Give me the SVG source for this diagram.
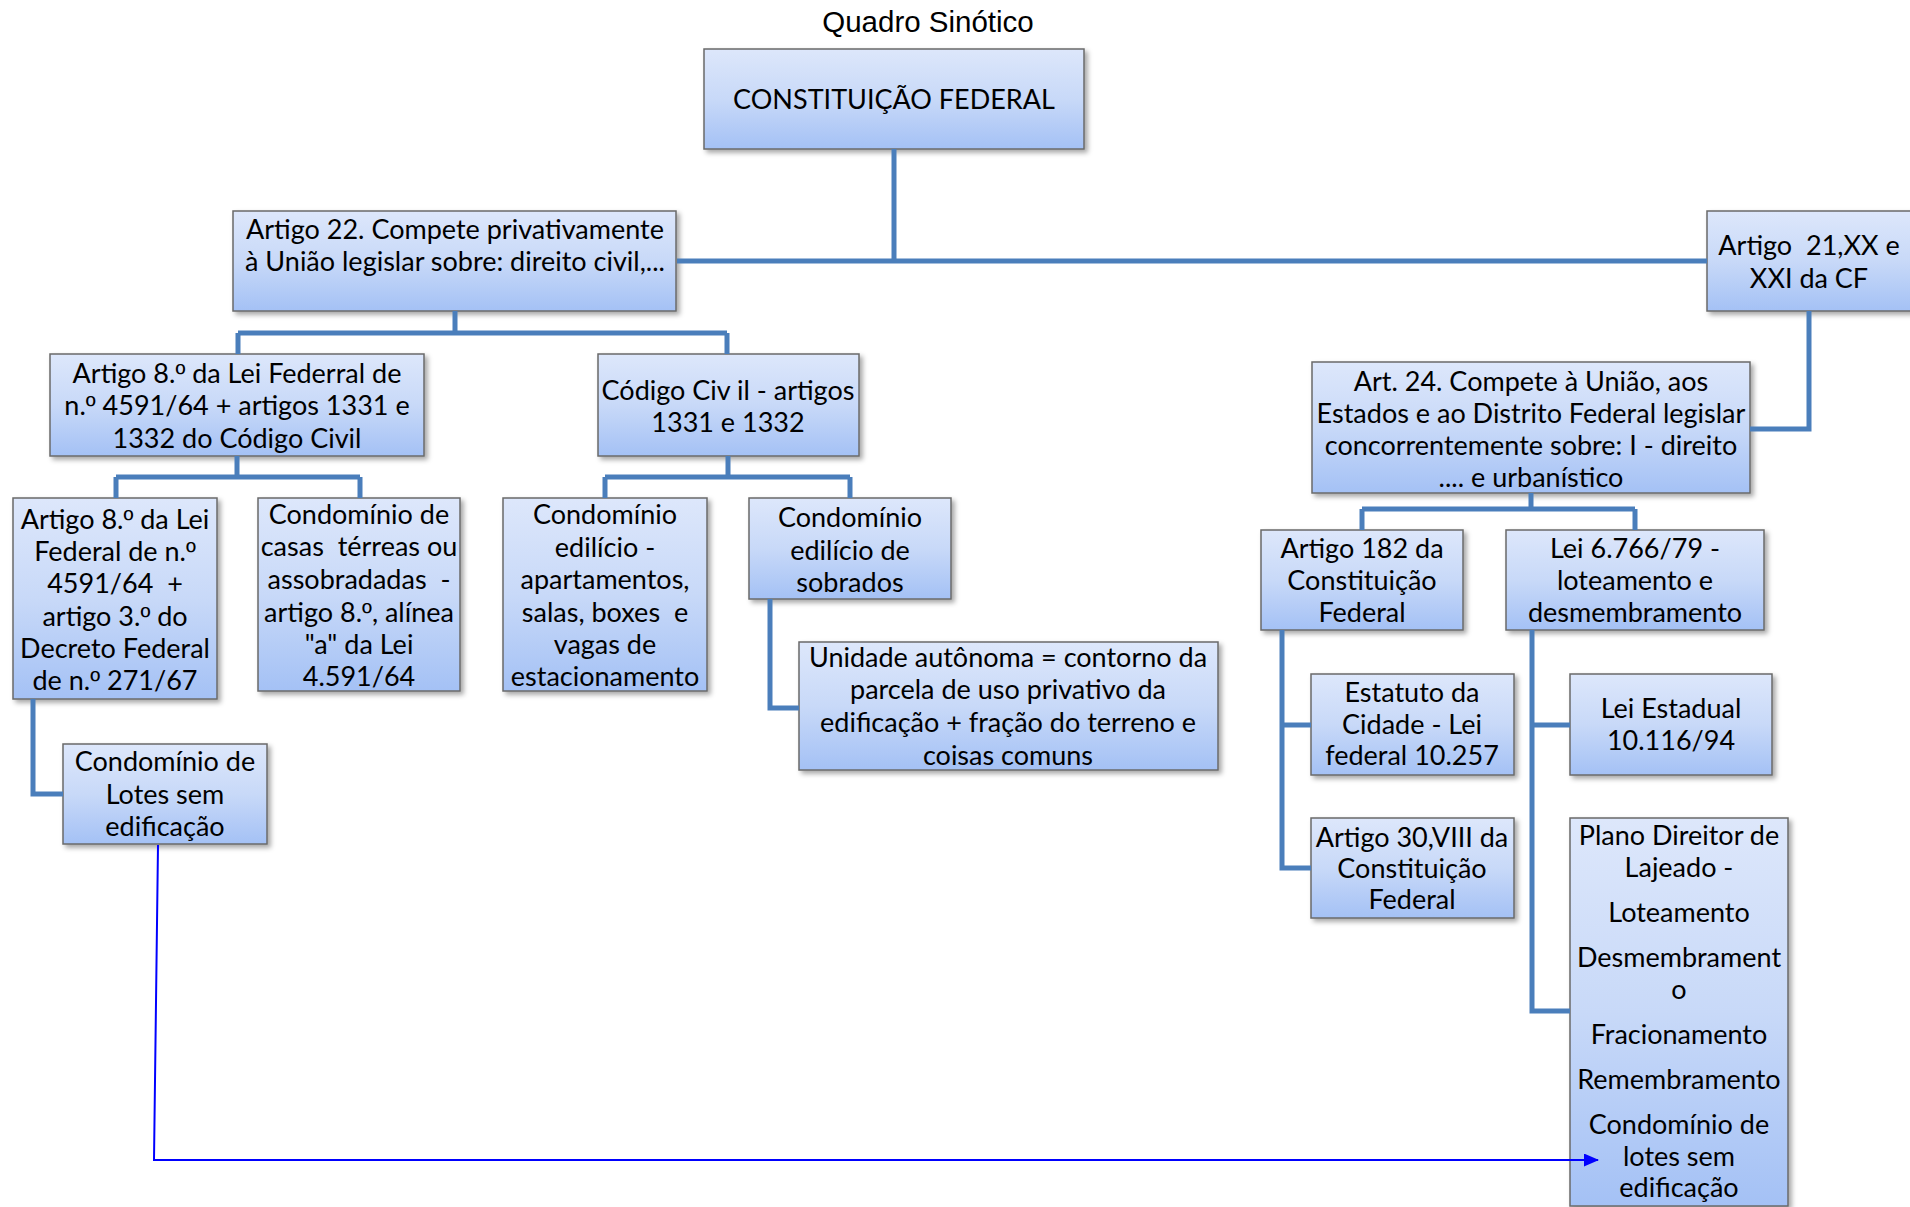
<svg xmlns="http://www.w3.org/2000/svg" width="1910" height="1207" viewBox="0 0 1910 1207">
<style>
.box{fill:url(#g);stroke:#6a6a6a;stroke-width:1.5;filter:url(#sh)}
.t{font-family:Lato,"Open Sans","DejaVu Sans",sans-serif;font-size:27px;fill:#000;text-anchor:middle}
.big{font-size:27px}
.o{font-family:"Liberation Sans",Arial,sans-serif}
.c{fill:none;stroke:#4a7ebb;stroke-width:5}
.blue{fill:none;stroke:#0000ff;stroke-width:2}
</style>
<defs>
<linearGradient id="g" x1="0" y1="0" x2="0" y2="1">
<stop offset="0" stop-color="#dde7fb"/>
<stop offset="0.5" stop-color="#c8d9f8"/>
<stop offset="1" stop-color="#a4c1f5"/>
</linearGradient>
<filter id="sh" x="-10%" y="-10%" width="130%" height="130%">
<feDropShadow dx="3" dy="3" stdDeviation="2.5" flood-color="#000" flood-opacity="0.35"/>
</filter>
<marker id="ar" markerWidth="15" markerHeight="13" refX="14" refY="6.5" orient="auto" markerUnits="userSpaceOnUse" viewBox="0 0 15 13">
<path d="M0,0 L15,6.5 L0,13 z" fill="#0000ff"/>
</marker>
</defs>
<rect width="1910" height="1207" fill="#fff"/>
<text x="928" y="32" style="font-family:'Liberation Sans',Arial,sans-serif;font-size:29.5px;text-anchor:middle">Quadro Sinótico</text>

<g id="n-cf"><rect class="box" x="704" y="49" width="380" height="100"/>
<text class="t big" x="894" y="109">CONSTITUIÇÃO FEDERAL</text></g>

<g id="n-art22"><rect class="box" x="233" y="211" width="443" height="100"/>
<text class="t" x="455" y="239">Artigo 22. Compete privativamente</text>
<text class="t" x="455" y="271">à União legislar sobre: direito civil,...</text></g>

<g id="n-art21"><rect class="box" x="1707" y="211" width="206" height="100"/>
<text class="t" x="1809" y="255" xml:space="preserve">Artigo  21,XX e</text>
<text class="t" x="1809" y="288">XXI da CF</text></g>

<g id="n-art8fed"><rect class="box" x="50" y="354" width="374" height="102"/>
<text class="t" x="237" y="383">Artigo 8.<tspan class="o">º</tspan> da Lei Federral de</text>
<text class="t" x="237" y="415">n.<tspan class="o">º</tspan> 4591/64 + artigos 1331 e</text>
<text class="t" x="237" y="448">1332 do Código Civil</text></g>

<g id="n-cc"><rect class="box" x="598" y="354" width="261" height="102"/>
<text class="t" x="728" y="400">Código Civ il - artigos</text>
<text class="t" x="728" y="432">1331 e 1332</text></g>

<g id="n-art24"><rect class="box" x="1312" y="362" width="438" height="131"/>
<text class="t" x="1531" y="391">Art. 24. Compete à União, aos</text>
<text class="t" x="1531" y="423">Estados e ao Distrito Federal legislar</text>
<text class="t" x="1531" y="455">concorrentemente sobre: I - direito</text>
<text class="t" x="1531" y="487">.... e urbanístico</text></g>

<g id="n-art8lei"><rect class="box" x="13" y="498" width="204" height="201"/>
<text class="t" x="115" y="529">Artigo 8.<tspan class="o">º</tspan> da Lei</text>
<text class="t" x="115" y="561">Federal de n.<tspan class="o">º</tspan></text>
<text class="t" x="115" y="593" xml:space="preserve">4591/64  +</text>
<text class="t" x="115" y="626">artigo 3.<tspan class="o">º</tspan> do</text>
<text class="t" x="115" y="658">Decreto Federal</text>
<text class="t" x="115" y="690">de n.<tspan class="o">º</tspan> 271/67</text></g>

<g id="n-casas"><rect class="box" x="258" y="498" width="202" height="193"/>
<text class="t" x="359" y="524">Condomínio de</text>
<text class="t" x="359" y="556" xml:space="preserve">casas  térreas ou</text>
<text class="t" x="359" y="589" xml:space="preserve">assobradadas  -</text>
<text class="t" x="359" y="622">artigo 8.<tspan class="o">º</tspan>, alínea</text>
<text class="t" x="359" y="654">"a" da Lei</text>
<text class="t" x="359" y="686">4.591/64</text></g>

<g id="n-edilicio"><rect class="box" x="503" y="498" width="204" height="193"/>
<text class="t" x="605" y="524">Condomínio</text>
<text class="t" x="605" y="557">edilício -</text>
<text class="t" x="605" y="589">apartamentos,</text>
<text class="t" x="605" y="622" xml:space="preserve">salas, boxes  e</text>
<text class="t" x="605" y="654">vagas de</text>
<text class="t" x="605" y="686">estacionamento</text></g>

<g id="n-sobrados"><rect class="box" x="749" y="498" width="202" height="101"/>
<text class="t" x="850" y="527">Condomínio</text>
<text class="t" x="850" y="560">edilício de</text>
<text class="t" x="850" y="592">sobrados</text></g>

<g id="n-unidade"><rect class="box" x="799" y="642" width="419" height="128"/>
<text class="t" x="1008" y="667">Unidade autônoma = contorno da</text>
<text class="t" x="1008" y="699">parcela de uso privativo da</text>
<text class="t" x="1008" y="732">edificação + fração do terreno e</text>
<text class="t" x="1008" y="765">coisas comuns</text></g>

<g id="n-lotes"><rect class="box" x="63" y="744" width="204" height="100"/>
<text class="t" x="165" y="771">Condomínio de</text>
<text class="t" x="165" y="804">Lotes sem</text>
<text class="t" x="165" y="836">edificação</text></g>

<g id="n-art182"><rect class="box" x="1261" y="530" width="202" height="100"/>
<text class="t" x="1362" y="558">Artigo 182 da</text>
<text class="t" x="1362" y="590">Constituição</text>
<text class="t" x="1362" y="622">Federal</text></g>

<g id="n-lei6766"><rect class="box" x="1506" y="530" width="258" height="100"/>
<text class="t" x="1635" y="558">Lei 6.766/79 -</text>
<text class="t" x="1635" y="590">loteamento e</text>
<text class="t" x="1635" y="622">desmembramento</text></g>

<g id="n-estatuto"><rect class="box" x="1311" y="674" width="203" height="101"/>
<text class="t" x="1412" y="702">Estatuto da</text>
<text class="t" x="1412" y="734">Cidade - Lei</text>
<text class="t" x="1412" y="765">federal 10.257</text></g>

<g id="n-leiest"><rect class="box" x="1570" y="674" width="202" height="101"/>
<text class="t" x="1671" y="718">Lei Estadual</text>
<text class="t" x="1671" y="750">10.116/94</text></g>

<g id="n-art30"><rect class="box" x="1311" y="818" width="203" height="100"/>
<text class="t" x="1412" y="847">Artigo 30,VIII da</text>
<text class="t" x="1412" y="878">Constituição</text>
<text class="t" x="1412" y="909">Federal</text></g>

<g id="n-plano"><rect class="box" x="1570" y="818" width="218" height="388"/>
<text class="t" x="1679" y="845">Plano Direitor de</text>
<text class="t" x="1679" y="877">Lajeado -</text>
<text class="t" x="1679" y="922">Loteamento</text>
<text class="t" x="1679" y="967">Desmembrament</text>
<text class="t" x="1679" y="999">o</text>
<text class="t" x="1679" y="1044">Fracionamento</text>
<text class="t" x="1679" y="1089">Remembramento</text>
<text class="t" x="1679" y="1134">Condomínio de</text>
<text class="t" x="1679" y="1166">lotes sem</text>
<text class="t" x="1679" y="1197">edificação</text></g>

<g id="connectors">
<path class="c" d="M894,149 V261 M677,261 H1707"/>
<path class="c" d="M455,311 V333 M238,333 H727 M238,333 V354 M727,333 V354"/>
<path class="c" d="M237,456 V477 M116,477 H360 M116,477 V498 M360,477 V498"/>
<path class="c" d="M728,456 V477 M605,477 H850 M605,477 V498 M850,477 V498"/>
<path class="c" d="M1809,311 V429 H1750"/>
<path class="c" d="M1531,493 V509 M1362,509 H1635 M1362,509 V530 M1635,509 V530"/>
<path class="c" d="M33,699 V794 H63"/>
<path class="c" d="M770,599 V708 H799"/>
<path class="c" d="M1282,630 V868 H1311 M1282,725 H1311"/>
<path class="c" d="M1532,630 V1011 H1570 M1532,725 H1570"/>
<polyline class="blue" points="158,845 154,1160 1598,1160" marker-end="url(#ar)"/>
</g>
</svg>
